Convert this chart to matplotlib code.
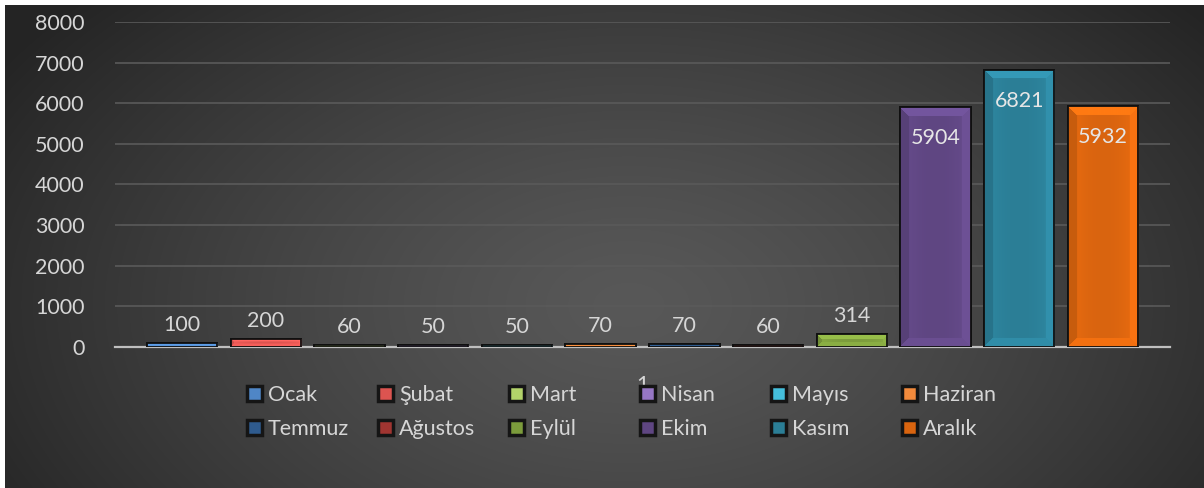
import numpy as np
import matplotlib
matplotlib.use("Agg")
import matplotlib.pyplot as plt
from matplotlib.colors import to_rgb

months = ["Ocak", "Şubat", "Mart", "Nisan", "Mayıs", "Haziran",
          "Temmuz", "Ağustos", "Eylül", "Ekim", "Kasım", "Aralık"]
values = [100, 200, 60, 50, 50, 70, 70, 60, 314, 5904, 6821, 5932]
colors = ["#4f86c6", "#dc5450", "#b3d36a", "#9676c4", "#45bfdc", "#f28a3c",
          "#2f5b8e", "#a03531", "#7c9c3c", "#5f4682", "#2b7e96", "#d9640f"]
category = "1"
yticks = [0, 1000, 2000, 3000, 4000, 5000, 6000, 7000, 8000]

W, H = 1204, 488
FS = 15.5
TXT = '#d6d6d6'
plt.rcParams['font.family'] = ['Lato', 'DejaVu Sans']
fig = plt.figure(figsize=(W / 100, H / 100), dpi=100, facecolor='white')

# background radial gradient (chart area starts 5px from top/left)
bg = fig.add_axes([5 / W, 0, (W - 5) / W, (H - 5) / H])
bg.set_axis_off()
bw, bh = W - 5, H - 5
xx, yy = np.meshgrid(np.arange(bw), np.arange(bh))
r = np.sqrt(((xx - bw * 0.52) / (bw * 0.62)) ** 2 + ((yy - bh * 0.62) / (bh * 0.95)) ** 2)
t = np.clip(r, 0, 1) ** 1.3
c0, c1 = 0x58 / 255, 0x24 / 255
g = c0 + (c1 - c0) * t
img = np.dstack([g, g, g])
bg.imshow(img, aspect='auto', extent=(0, 1, 0, 1), interpolation='bilinear')
bg.set_xlim(0, 1)
bg.set_ylim(0, 1)

ax = fig.add_axes([115 / W, (H - 347) / H, (1170 - 115) / W, (347 - 22) / H])
ax.patch.set_alpha(0)
x = np.arange(len(values))
EW = 1.3
bars = []
for i, (m, v, c) in enumerate(zip(months, values, colors)):
    b = ax.bar(x[i], v, width=0.84, color=c, edgecolor='#101010', linewidth=EW,
               label=m, zorder=3)
    bars.append(b[0])

ax.set_xlim(-0.8, 11.8)
ax.set_ylim(0, 8000)
ax.set_yticks(yticks)
ax.set_yticklabels([str(v) for v in yticks], fontsize=FS, color=TXT)
ax.set_xticks([5.5])
ax.set_xticklabels([category], fontsize=FS, color=TXT)
ax.tick_params(axis='both', length=0)
ax.tick_params(axis='y', pad=22)
ax.tick_params(axis='x', pad=20)
ax.grid(axis='y', color='#5a5a5a', linewidth=1.2, zorder=0)
for s in ['top', 'right', 'left']:
    ax.spines[s].set_visible(False)
ax.spines['bottom'].set_color('#bfbfbf')
ax.spines['bottom'].set_linewidth(1.6)
ax.spines['bottom'].set_zorder(2.5)

# bevel shading for each bar
fig.canvas.draw()
trans = ax.transData
for rect, c in zip(bars, colors):
    x0, y0 = rect.get_x(), rect.get_y()
    w, h = rect.get_width(), rect.get_height()
    p0 = trans.transform((x0, y0))
    p1 = trans.transform((x0 + w, y0 + h))
    wp = max(int(round(p1[0] - p0[0])), 2)
    hp = max(int(round(p1[1] - p0[1])), 2)
    base = np.array(to_rgb(c))
    X, Y = np.meshgrid(np.arange(wp) + 0.5, np.arange(hp) + 0.5)  # Y from top
    bev = min(9.0, hp / 2.5)
    dl, dr = X, wp - X
    dt, db = Y, hp - Y
    f = np.ones_like(X, dtype=float)
    f += 0.10 * (np.abs(X / wp - 0.5) * 2) ** 2
    dmin = np.minimum(np.minimum(dl, dr), np.minimum(dt, db))
    inb = dmin < bev
    top = inb & (dt == dmin)
    bot = inb & (db == dmin) & ~top
    left = inb & (dl == dmin) & ~top & ~bot
    right = inb & (dr == dmin) & ~top & ~bot & ~left
    f[top] = 1.22
    f[bot] = 1.12
    f[left] = 0.92
    f[right] = 1.15
    rgb = np.clip(base[None, None, :] * f[:, :, None], 0, 1)
    im = ax.imshow(rgb, extent=(x0, x0 + w, y0, y0 + h), aspect='auto',
                   interpolation='bilinear', zorder=3.5)
    im.set_clip_path(rect)
    ax.bar(x0 + w / 2, h, width=w, bottom=y0, facecolor='none',
           edgecolor='#101010', linewidth=EW, zorder=3.6)

# data labels
for rect, v in zip(bars, values):
    cx = rect.get_x() + rect.get_width() / 2
    if v > 3000:
        ax.annotate(str(v), (cx, v), xytext=(0, -31), textcoords='offset pixels',
                    ha='center', va='center', fontsize=FS, color='#e6e6e6', zorder=5)
    else:
        ax.annotate(str(v), (cx, v), xytext=(0, 18), textcoords='offset pixels',
                    ha='center', va='center', fontsize=FS, color=TXT, zorder=5)

ax.set_xlim(-0.8, 11.8)
ax.set_ylim(0, 8000)

# legend: six columns, two rows
col_x = [247, 378, 509, 640, 771, 902]
for j in range(6):
    leg = fig.legend(handles=[bars[j], bars[j + 6]], labels=[months[j], months[j + 6]],
                     loc='upper left', bbox_to_anchor=(col_x[j] / W, 1 - 385 / H),
                     frameon=False, fontsize=FS, labelcolor=TXT,
                     handlelength=0.68, handleheight=0.68, handletextpad=0.3,
                     labelspacing=0.66, borderpad=0, borderaxespad=0)
    for hnd in leg.legend_handles:
        hnd.set_linewidth(2.5)
        hnd.set_edgecolor('#151515')

fig.savefig("out.png", dpi=100, facecolor='white')
